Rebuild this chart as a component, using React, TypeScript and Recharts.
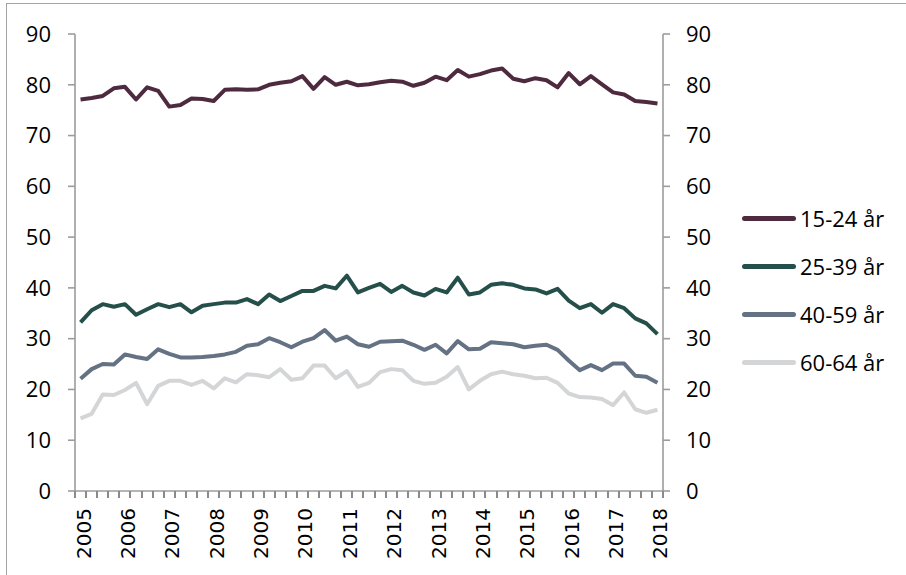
import { Line, LineChart, XAxis, YAxis } from 'recharts'

// quarterly, 2005K1 - 2018K1
const years = ['2005', '2006', '2007', '2008', '2009', '2010', '2011', '2012', '2013', '2014', '2015', '2016', '2017', '2018']
const quarters: string[] = years.flatMap((y) => ['K1', 'K2', 'K3', 'K4'].map((k) => y + k)).slice(0, 53)

const age1524 = [
  77.1, 77.4, 77.8, 79.3, 79.6, 77.1, 79.5, 78.8, 75.7, 76.0, 77.3, 77.2, 76.8, 79.0, 79.1, 79.0, 79.1, 80.0,
  80.4, 80.7, 81.7, 79.2, 81.5, 80.0, 80.6, 79.9, 80.1, 80.5, 80.8, 80.6, 79.8, 80.4, 81.6, 80.9, 82.9, 81.6,
  82.1, 82.8, 83.2, 81.2, 80.7, 81.3, 80.9, 79.5, 82.3, 80.1, 81.7, 80.1, 78.5, 78.1, 76.8, 76.6, 76.3,
]
const age2539 = [
  33.2, 35.6, 36.8, 36.3, 36.8, 34.7, 35.8, 36.8, 36.2, 36.8, 35.2, 36.5, 36.8, 37.1, 37.1, 37.8, 36.8, 38.7,
  37.4, 38.4, 39.4, 39.4, 40.4, 39.9, 42.4, 39.1, 40.0, 40.8, 39.2, 40.4, 39.1, 38.5, 39.8, 39.1, 42.0, 38.7,
  39.1, 40.6, 40.9, 40.6, 39.9, 39.7, 38.9, 39.8, 37.5, 36.0, 36.8, 35.1, 36.8, 36.0, 34.0, 33.0, 30.9,
]
const age4059 = [
  22.1, 24.0, 25.0, 24.9, 26.9, 26.4, 26.0, 27.9, 27.0, 26.3, 26.3, 26.4, 26.6, 26.9, 27.4, 28.6, 28.9, 30.1,
  29.3, 28.3, 29.4, 30.1, 31.7, 29.6, 30.4, 28.9, 28.4, 29.4, 29.5, 29.6, 28.8, 27.8, 28.8, 27.1, 29.5, 27.9,
  28.0, 29.3, 29.1, 28.9, 28.3, 28.6, 28.8, 27.8, 25.7, 23.8, 24.8, 23.8, 25.1, 25.1, 22.7, 22.5, 21.3,
]
const age6064 = [
  14.3, 15.2, 19.0, 18.9, 19.9, 21.3, 17.1, 20.7, 21.7, 21.7, 20.9, 21.7, 20.2, 22.2, 21.4, 23.0, 22.8, 22.4,
  24.0, 21.9, 22.2, 24.7, 24.7, 22.2, 23.6, 20.5, 21.3, 23.4, 24.0, 23.8, 21.7, 21.1, 21.3, 22.5, 24.4, 20.0,
  21.7, 23.0, 23.5, 23.0, 22.7, 22.2, 22.3, 21.3, 19.2, 18.5, 18.4, 18.1, 16.9, 19.4, 16.1, 15.4, 16.0,
]

const yTicks = [0, 10, 20, 30, 40, 50, 60, 70, 80, 90]

// the last one hangs on the right axis (same 0-90 scale) so that axis gets ticks
const series = [
  { key: 'a', name: '15-24 år', color: '#4e2a3f', axis: 'l' },
  { key: 'b', name: '25-39 år', color: '#254f4a', axis: 'l' },
  { key: 'c', name: '40-59 år', color: '#647284', axis: 'l' },
  { key: 'd', name: '60-64 år', color: '#d4d5d7', axis: 'r' },
]

const data = quarters.map((q, i) => ({
  i,
  q,
  a: age1524[i],
  b: age2539[i],
  c: age4059[i],
  d: age6064[i],
}))

const W = 906
const H = 575
const leftW = 75
const rightW = 243
const plotW = W - leftW - rightW
const halfBand = plotW / quarters.length / 2
const xTickLen = 7
const axisY = H - 84

// tick marks sit between quarters; the year label goes on the K1 after a mark
const boundaries = quarters.map((_, i) => i - 0.5).concat(quarters.length - 0.5)
const xDomain = [-0.5, quarters.length - 0.5]

const axisColor = '#9c9c9c'
const tickFont = { fill: '#000', fontSize: 22, fontFamily: 'Open Sans' }

const YearTick = (props: any) => {
  const { x, payload } = props
  const idx = payload.value + 0.5
  const mx = Math.round(x)
  const mark = (
    <path d={`M${mx},${axisY} V${axisY + xTickLen}`} stroke='#8a8a8a' strokeWidth={2} fill='none' />
  )
  if (idx % 4 !== 0 || idx >= quarters.length) return <g>{mark}</g>
  const cx = x + halfBand + 3
  const cy = axisY + 17
  return (
    <g>
      {mark}
      <text
        x={cx}
        y={cy}
        transform={`rotate(-90 ${cx} ${cy})`}
        textAnchor='end'
        dominantBaseline='central'
        fontFamily='DejaVu Sans'
        fontSize={20}
        fill='#000'
      >
        {quarters[idx].slice(0, 4)}
      </text>
    </g>
  )
}

export default function App() {
  return (
    <div style={{ position: 'fixed', left: 0, top: 0, width: W, height: H, overflow: 'hidden', background: '#fff' }}>
      <div
        style={{
          position: 'absolute',
          left: 6,
          top: 3,
          width: 2000,
          height: 2000,
          border: '1px solid #a3a3a3',
        }}
      />
      <div style={{ position: 'absolute', left: 0, top: 0 }}>
        <LineChart width={W} height={H} data={data} margin={{ top: 34, right: 0, bottom: 0, left: 0 }}>
          <XAxis
            dataKey='i'
            type='number'
            domain={xDomain}
            ticks={boundaries}
            interval={0}
            height={84}
            tickSize={xTickLen}
            tickMargin={0}
            stroke={axisColor}
            strokeWidth={1.6}
            tickLine={false}
            tick={YearTick}
          />
          <YAxis
            yAxisId='l'
            width={leftW}
            domain={[0, 90]}
            ticks={yTicks}
            interval={0}
            tickSize={7}
            tickMargin={17}
            stroke={axisColor}
            strokeWidth={1.6}
            tick={tickFont}
          />
          <YAxis
            yAxisId='r'
            orientation='right'
            width={rightW}
            domain={[0, 90]}
            ticks={yTicks}
            interval={0}
            tickSize={7}
            tickMargin={16}
            stroke={axisColor}
            strokeWidth={1.6}
            tick={{ ...tickFont, textAnchor: 'start' }}
          />
          {series.map((s) => (
            <Line
              key={s.key}
              yAxisId={s.axis}
              type='linear'
              dataKey={s.key}
              name={s.name}
              stroke={s.color}
              strokeWidth={4}
              strokeLinejoin='round'
              dot={false}
              activeDot={false}
              isAnimationActive={false}
            />
          ))}
        </LineChart>
      </div>
      <div style={{ position: 'absolute', left: 742, top: 194 }}>
        {series.map((s) => (
          <div key={s.key} style={{ display: 'flex', alignItems: 'center', height: 48 }}>
            <div style={{ width: 54, height: 5, borderRadius: 3, background: s.color }} />
            <span style={{ marginLeft: 4, fontFamily: 'Open Sans', fontSize: 22, color: '#000', lineHeight: '22px' }}>
              {s.name}
            </span>
          </div>
        ))}
      </div>
    </div>
  )
}
